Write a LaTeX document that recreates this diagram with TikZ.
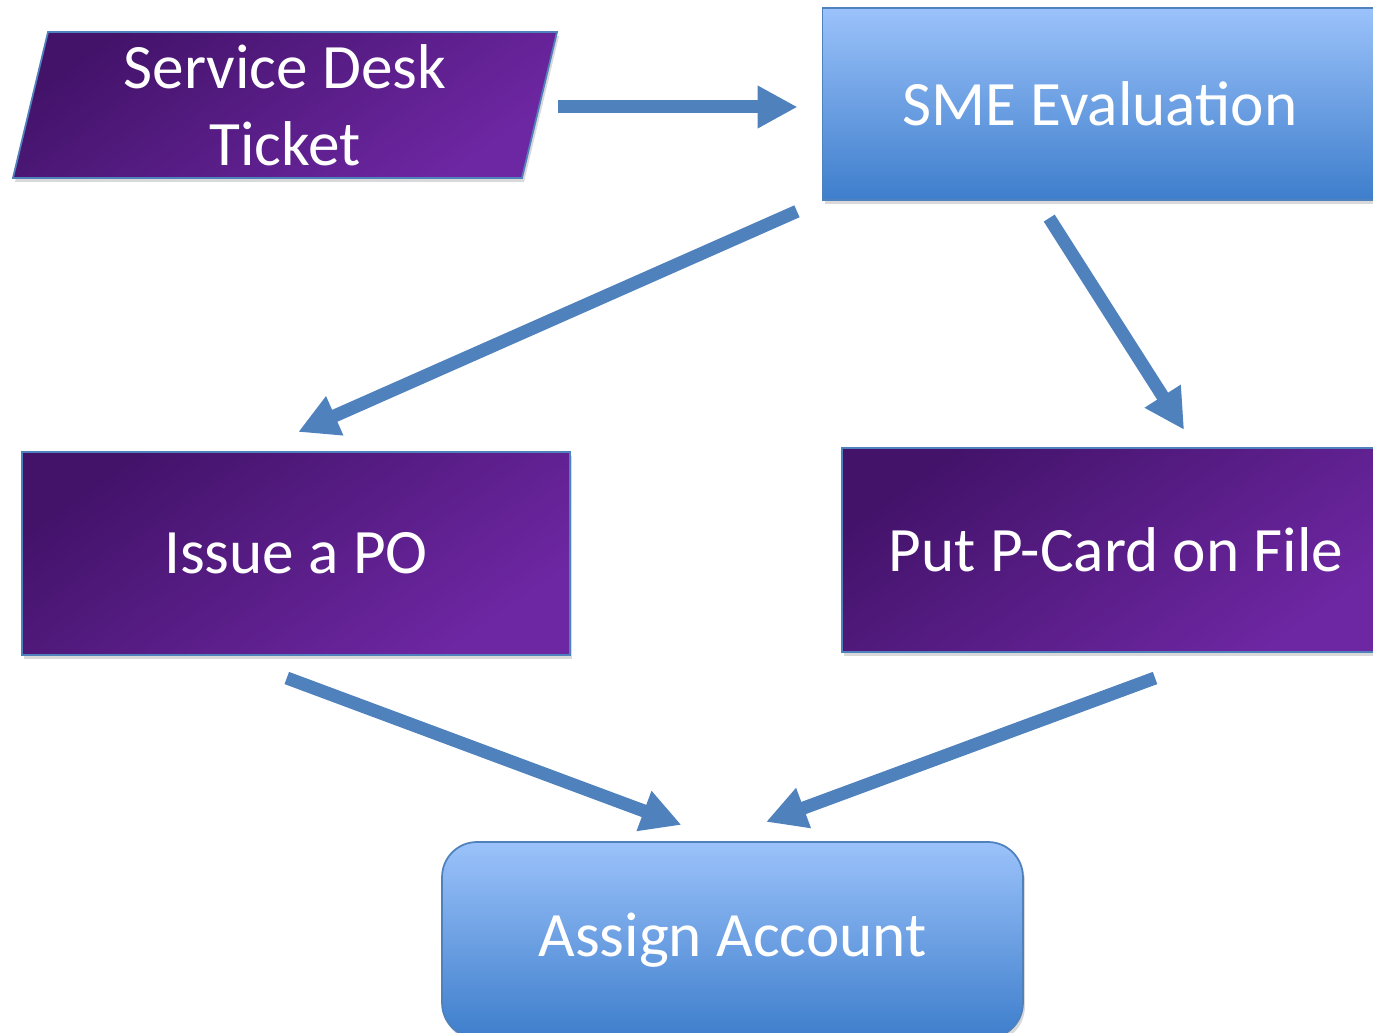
\documentclass[tikz,border=0pt]{standalone}
\usepackage{fontspec}
\setmainfont{Carlito}
\usepackage{tikz}
\usetikzlibrary{shapes.geometric, arrows.meta, shadows}
\definecolor{purpdark}{HTML}{43136A}
\definecolor{purplite}{HTML}{6E27A3}
\definecolor{bluelite}{HTML}{9BC2FA}
\definecolor{bluedark}{HTML}{3E7ECC}
\definecolor{edgeblue}{HTML}{4F81BD}
\definecolor{arrblue}{HTML}{4F81BD}
\tikzset{
  purp/.style={rectangle, draw=edgeblue, line width=1pt, top color=purpdark, bottom color=purplite,
    shading angle=35, text=white, font=\fontsize{36}{44}\selectfont, align=center, outer sep=0pt,
    drop shadow={shadow xshift=0.04cm, shadow yshift=-0.08cm, opacity=0.3}},
  purp/io/.style={purp, trapezium, trapezium left angle=79.5, trapezium right angle=100.5,
    trapezium stretches=true},
  blu/.style={rectangle, draw=edgeblue, line width=1pt, top color=bluelite, bottom color=bluedark,
    text=white, font=\fontsize{36}{44}\selectfont, align=center, outer sep=0pt,
    drop shadow={shadow xshift=0.04cm, shadow yshift=-0.08cm, opacity=0.3}},
  ar/.style={-{Triangle[length=0.8cm, width=0.8cm]}, draw=arrblue, line width=0.26cm},
}

\begin{document}
\begin{tikzpicture}[x=0.02cm, y=-0.02cm]
\useasboundingbox (0,0) rectangle (1373,1033);

\node[purp/io, minimum width=10.92cm, minimum height=2.92cm] (TKT) at (285,105) {Service Desk\\Ticket};
\node[blu, minimum width=11.1cm, minimum height=3.84cm] (SME) at (1100,104) {SME Evaluation};

\node[purp, minimum width=10.96cm, minimum height=4.06cm] (PO) at (296,553.5) {Issue a PO};
\node[purp, minimum width=10.96cm, minimum height=4.08cm] (PCARD) at (1116,550) {Put P-Card on File};

\node[blu, rounded corners=0.7cm, minimum width=11.62cm, minimum height=3.92cm] (ACCT) at (732.5,940) {Assign Account};

\draw[ar, shorten <=0.36cm, shorten >=0.5cm] ([yshift=-0.04cm]TKT.east) -- ([yshift=-0.04cm]TKT.east -| SME.west);
\draw[ar, shorten <=0.56cm, shorten >=0.99cm] (SME.south west) -- (PO.113.4);
\draw[ar, shorten <=0.43cm, shorten >=0.43cm] (SME.-123.3) -- (PCARD.52.9);
\draw[ar, shorten <=1.32cm, shorten >=0.98cm] (PO.-125.7) -- (ACCT.93.8);
\draw[ar, shorten <=1.5cm, shorten >=1.16cm] (PCARD.-43.1) -- (ACCT.102.4);

\end{tikzpicture}
\end{document}
